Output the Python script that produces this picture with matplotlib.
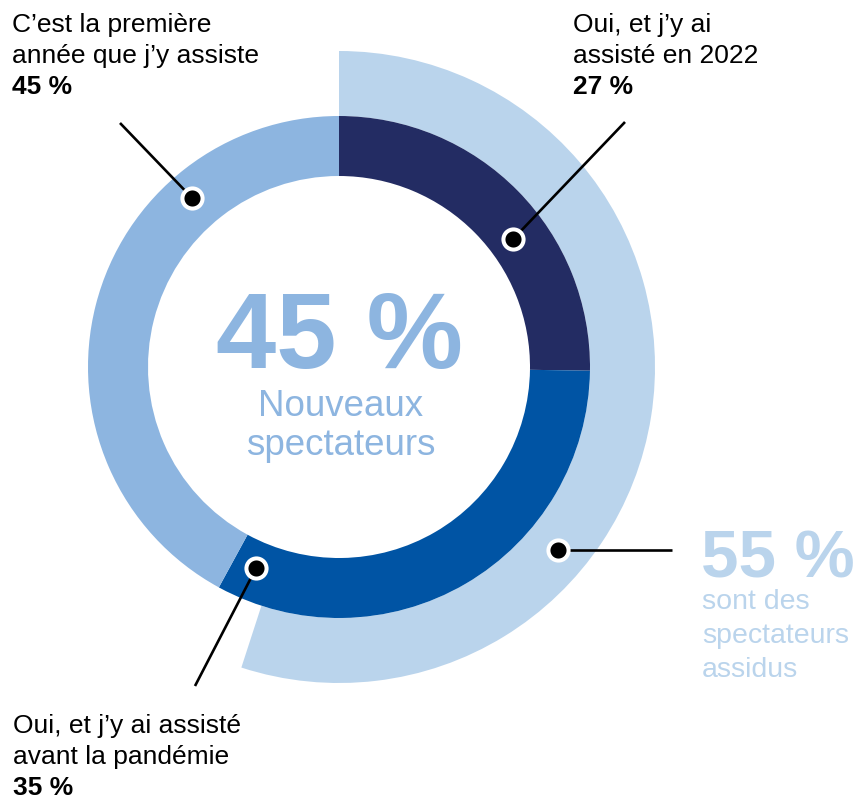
import numpy as np
import matplotlib
matplotlib.use("Agg")
import matplotlib.pyplot as plt

# data
categories = ["Oui, et j’y ai\nassisté en 2022",
              "Oui, et j’y ai assisté\navant la pandémie",
              "C’est la première\nannée que j’y assiste"]
shares = [27, 35, 45]
assidus = 55
nouveaux = 45

colors = ["#232C63", "#0054A4", "#8DB5E0"]
pale = "#BAD4EC"

W, H = 864, 800
cx, cy = 339, H - 367   # pie centre in pixel units (y up)

plt.rcParams['font.family'] = ['Liberation Sans', 'DejaVu Sans']

fig = plt.figure(figsize=(W / 100, H / 100), dpi=100)
ax = fig.add_axes([0, 0, 1, 1])

# outer arc: regular spectators
ax.pie([assidus, 100 - assidus], radius=316, center=(cx, cy), startangle=90,
       counterclock=False, colors=[pale, "none"],
       wedgeprops=dict(width=65, linewidth=0))
# inner donut
ax.pie(shares, radius=251, center=(cx, cy), startangle=90, counterclock=False,
       colors=colors, wedgeprops=dict(width=60, linewidth=0))

ax.set_xlim(0, W)
ax.set_ylim(0, H)
ax.set_aspect("equal")
ax.axis("off")


def polar(ang, r):
    a = np.deg2rad(ang)
    return cx + r * np.cos(a), cy + r * np.sin(a)


def callout(ang, r, end, flat=False):
    x, y = polar(ang, r)
    ey = y if flat else H - end[1]
    ax.plot([x, end[0]], [y, ey], color="black", lw=1.9,
            solid_capstyle="butt", zorder=5)
    ax.plot(x, y, "o", ms=14.5, mfc="black", mec="white", mew=2.9, zorder=6)


def label(x, baselines, text, pct):
    lines = text.split("\n")
    for ln, b in zip(lines, baselines):
        ax.text(x, H - b, ln, fontsize=19, va="baseline", ha="left")
    ax.text(x, H - baselines[-1], f"{pct} %", fontsize=19, fontweight="bold",
            va="baseline", ha="left")


# callouts (angle, radius on ring, label end point in pixels)
callout(36.3, 216, (625, 122))
callout(-112.4, 217, (195, 686))
callout(131, 224, (120, 123))
callout(-39.9, 285, (672, 550), flat=True)

label(573, [32, 63, 94], categories[0], shares[0])
label(13, [733, 764, 795], categories[1], shares[1])
label(12, [32, 63, 94], categories[2], shares[2])

# centre text
ax.text(339, H - 368, f"{nouveaux} %", fontsize=78, fontweight="bold",
        color=colors[2], ha="center", va="baseline")
ax.text(341, H - 416, "Nouveaux", fontsize=26.5, color=colors[2],
        ha="center", va="baseline")
ax.text(341, H - 455, "spectateurs", fontsize=26.5, color=colors[2],
        ha="center", va="baseline")

# right side text
ax.text(701, H - 578, f"{assidus} %", fontsize=48.5, fontweight="bold",
        color=pale, ha="left", va="baseline")
for s, b in zip(["sont des", "spectateurs", "assidus"], [609, 643, 677]):
    ax.text(702, H - b, s, fontsize=20.5, color=pale, ha="left", va="baseline")

fig.savefig("out.png", dpi=100)
